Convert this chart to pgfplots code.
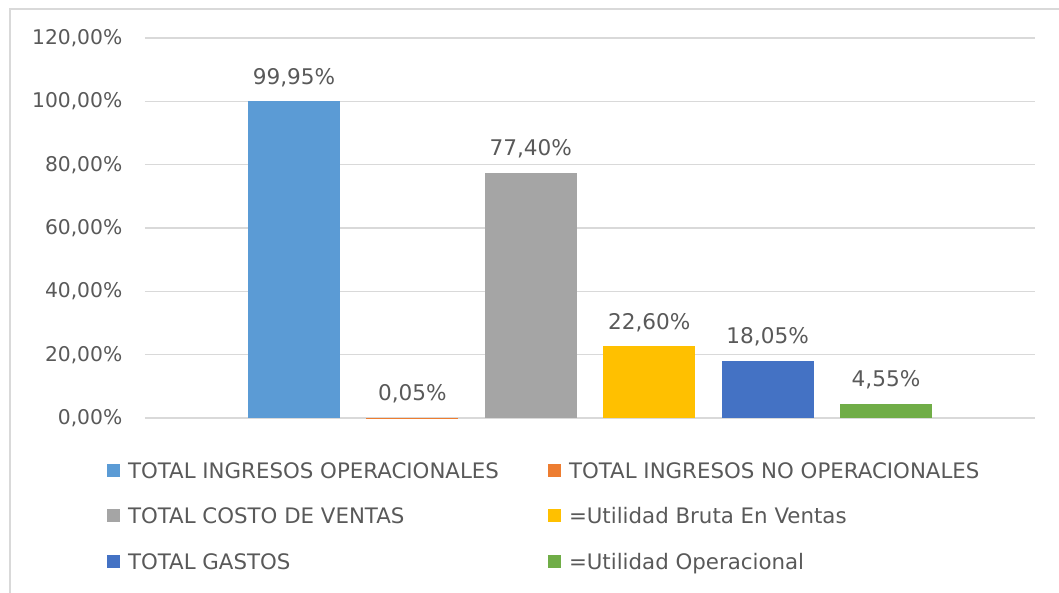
\documentclass[border=0pt]{standalone}
\usepackage{pgfplots}
\pgfplotsset{compat=1.18}
\usepackage{fontspec}
\setmainfont{DejaVu Sans}
\definecolor{c1}{HTML}{5B9BD5}
\definecolor{c2}{HTML}{ED7D31}
\definecolor{c3}{HTML}{A5A5A5}
\definecolor{c4}{HTML}{FFC000}
\definecolor{c5}{HTML}{4472C4}
\definecolor{c6}{HTML}{70AD47}
\definecolor{txt}{HTML}{595959}
\definecolor{grd}{HTML}{D9D9D9}
\begin{document}
\begin{tikzpicture}
\path[use as bounding box] (-108.75pt,-130.5pt) rectangle (685.5pt,313.5pt);
\draw[grd, line width=1.5pt] (-101.6pt,-132pt) -- (-101.6pt,306.75pt) -- (687pt,306.75pt);
\begin{axis}[
  at={(0pt,0pt)}, anchor=south west,
  scale only axis, width=667.5pt, height=285pt,
  xmin=-1.258, xmax=6.258, ymin=0, ymax=120,
  ytick={0,20,...,120}, xtick=\empty,
  ymajorgrids, grid style={grd, line width=0.9pt},
  axis line style={draw=none}, major tick length=0pt,
  /pgf/number format/assume math mode=true,
  yticklabel={\pgfmathprintnumber[fixed,fixed zerofill,precision=2,use comma]{\tick}\%},
  yticklabel style={font=\fontsize{15.2}{18}\selectfont, text=txt, anchor=east, xshift=-13.5pt},
  ybar, bar width=69pt,
  nodes near coords={\pgfmathprintnumber[fixed,fixed zerofill,precision=2,use comma]{\pgfplotspointmeta}\%},
  every node near coord/.append style={font=\fontsize{16.2}{19}\selectfont, text=txt, anchor=center, yshift=18.75pt, text height=11.8pt, text depth=0pt, inner sep=0pt},
  legend columns=2,
  legend cell align=left,
  legend style={at={(axis description cs:-0.0427,-0.117)}, anchor=north west, draw=none, fill=none,
    inner sep=0pt, outer sep=0pt, column sep=0pt, row sep=22.6pt,
    font=\fontsize{16}{19}\selectfont, text=txt,
    nodes={inner sep=0pt, text height=11.66pt, text depth=0pt},
    /tikz/every odd column/.append style={column sep=6pt}},
  legend image code/.code={\fill[#1] (0pt,-4.875pt) rectangle (9.75pt,4.875pt);},
]
\addplot[fill=c1, draw=none, bar shift=0pt] coordinates {(0,99.95)};
\addlegendentry{\makebox[315pt][l]{TOTAL INGRESOS OPERACIONALES}}
\addplot[fill=c2, draw=none, bar shift=0pt] coordinates {(1,0.05)};
\addlegendentry{TOTAL INGRESOS NO OPERACIONALES}
\addplot[fill=c3, draw=none, bar shift=0pt] coordinates {(2,77.40)};
\addlegendentry{\makebox[315pt][l]{TOTAL COSTO DE VENTAS}}
\addplot[fill=c4, draw=none, bar shift=0pt] coordinates {(3,22.60)};
\addlegendentry{=Utilidad Bruta En Ventas}
\addplot[fill=c5, draw=none, bar shift=0pt] coordinates {(4,18.05)};
\addlegendentry{\makebox[315pt][l]{TOTAL GASTOS}}
\addplot[fill=c6, draw=none, bar shift=0pt] coordinates {(5,4.55)};
\addlegendentry{=Utilidad Operacional}
\end{axis}
\end{tikzpicture}
\end{document}
